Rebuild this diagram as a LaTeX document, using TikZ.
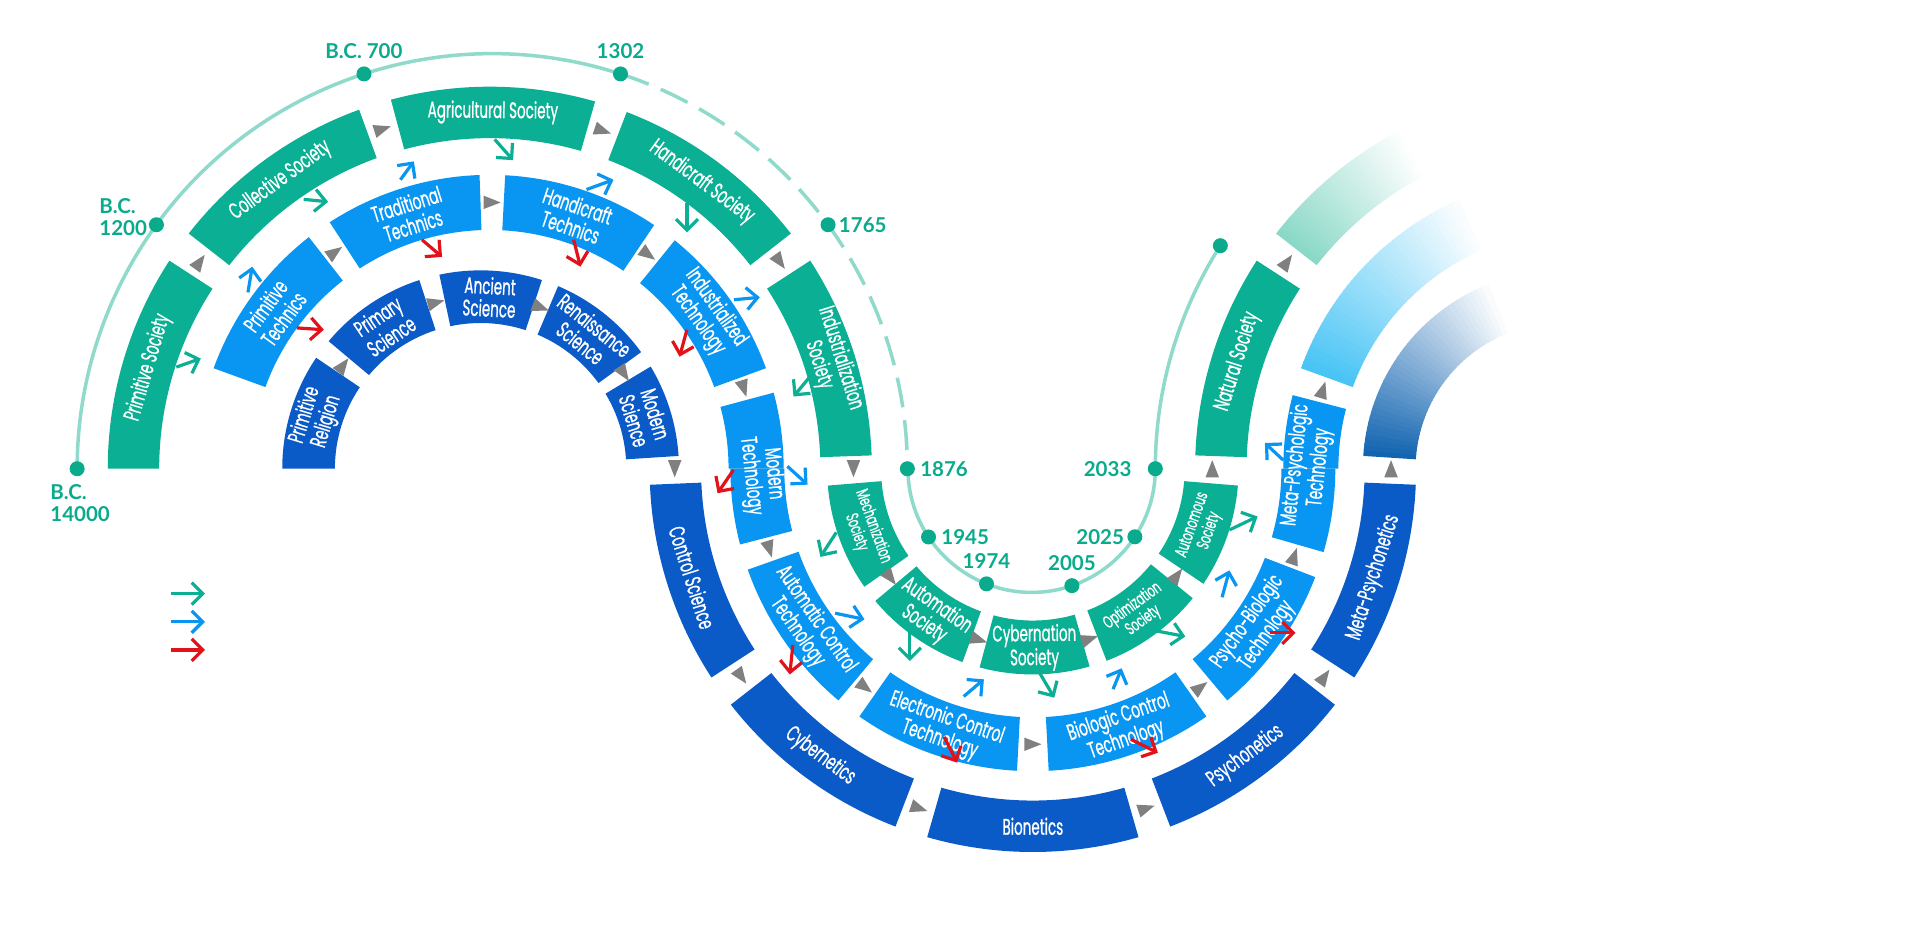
\documentclass[tikz,border=0pt]{standalone}
\usepackage{fontspec}
\usepackage{tikz}
\usetikzlibrary{arrows.meta, positioning}
\newfontfamily\segfont[FakeStretch=0.6, FakeBold=0.8]{Poppins}
\newfontfamily\yearfont{Lato}
\definecolor{societyteal}{HTML}{0AAF94}
\definecolor{techblue}{HTML}{0896F2}
\definecolor{sciblue}{HTML}{0A5AC8}
\definecolor{flowgray}{HTML}{808080}
\definecolor{linkred}{HTML}{E3121A}
\definecolor{timeline}{HTML}{8FDACB}
\definecolor{yeargreen}{HTML}{0AAA8C}
\definecolor{fadeteal}{HTML}{8AD8C7}
\definecolor{fadesky}{HTML}{48C4F5}
\definecolor{fadenavy}{HTML}{1264B0}

% ring piece: centre x, inner r, outer r, from angle, to angle, colour
\newcommand{\segfill}[6]{%
  \fill[#6, shift={(#1,389)}] (#4:#3) arc[start angle=#4, end angle=#5, radius=#3]
    -- (#5:#2) arc[start angle=#5, end angle=#4, radius=#2] -- cycle;}
% ring piece with its label
\newcommand{\seg}[9]{%
  \segfill{#2}{#3}{#4}{#5}{#6}{#7}
  \pgfmathsetmacro\midang{(#5+#6)/2}
  \pgfmathsetmacro\midrad{(#3+#4)/2}
  \node[segtext, #8] (#1) at ([shift={(#2,389)}]\midang:\midrad) {#9};}
% gray flow mark in a gap (tip 7 = counter-clockwise, -7 = clockwise)
\newcommand{\flowtri}[4]{%
  \fill[flowgray, shift={(#1,389)}, rotate=#3] (#2,#4) -- ({#2-5.5},{-(#4)}) -- ({#2+5.5},{-(#4)}) -- cycle;}
% fading ring piece
\newcommand{\fadeseg}[6]{%
  \foreach \k in {0,...,39}{%
    \pgfmathsetmacro\fa{#4+(#5-#4)*\k/40}
    \pgfmathsetmacro\fb{#4+(#5-#4)*(\k+1.3)/40}
    \pgfmathsetmacro\fs{100*(1-\k/40)}
    \segfill{#1}{#2}{#3}{\fa}{\fb}{#6!\fs!white}}}

\begin{document}
\begin{tikzpicture}[x=1.2245pt, y=1.2245pt,
  segtext/.style={text=white, font=\segfont\fontsize{22.5}{22.5}\selectfont, align=center, inner sep=0pt},
  tight/.style={font=\segfont\fontsize{17.5}{18}\selectfont},
  onarc/.style={rotate=\midang-90},
  underarc/.style={rotate=\midang+90},
  year/.style={text=yeargreen, font=\yearfont\bfseries\fontsize{20.5}{22}\selectfont, inner sep=0pt},
  tdot/.style={circle, fill=yeargreen, minimum size=15pt, inner sep=0pt},
  tline/.style={draw=timeline, line width=3.5pt},
  link/.style={line width=3.2pt, -{Straight Barb[length=11pt, width=22pt]}}
]
\fill[white] (0,0) rectangle (1568,771.8);

% science ring
\seg{primrel}{392.5}{119}{162}{180}{146}{sciblue}{onarc}{Primitive\\Religion}
\seg{primsci}{392.5}{119}{162}{140}{108}{sciblue}{onarc}{Primary\\Science}
\seg{ancsci}{392.5}{119}{162}{102}{72}{sciblue}{onarc}{Ancient\\Science}
\seg{rensci}{392.5}{119}{162}{67}{36}{sciblue}{onarc}{Renaissance\\Science}
\seg{modsci}{392.5}{119}{162}{31}{3.7}{sciblue}{onarc}{Modern\\Science}
\seg{ctlsci}{843.5}{271}{313}{182.4}{213}{sciblue}{underarc}{Control Science}
\seg{cybern}{843.5}{271}{313}{218}{249}{sciblue}{underarc}{Cybernetics}
\seg{bionet}{843.5}{271}{313}{254}{286}{sciblue}{underarc}{Bionetics}
\seg{psynet}{843.5}{271}{313}{291}{322}{sciblue}{underarc}{Psychonetics}
\seg{metanet}{843.5}{271}{313}{327}{357.6}{sciblue}{underarc}{Meta-Psychonetics}
\fadeseg{1275}{119}{162}{176.3}{112}{fadenavy}

% technology ring
\seg{primtech}{400}{195}{240}{160}{128}{techblue}{onarc}{Primitive\\Technics}
\seg{tradtech}{400}{195}{240}{123}{92}{techblue}{onarc}{Traditional\\Technics}
\seg{handtech}{400}{195}{240}{87}{56}{techblue}{onarc}{Handicraft\\Technics}
\seg{indtech}{400}{195}{240}{51}{20}{techblue}{onarc}{Industrialized\\Technology}
\segfill{400}{195}{240}{15}{0}{techblue}
\segfill{843.5}{203}{247}{180}{194.5}{techblue}
\node[segtext, rotate=-84] (modtech) at (622,384) {Modern\\Technology};
\seg{autotech}{843.5}{203}{247}{199.5}{230}{techblue}{underarc}{Automatic Control\\Technology}
\seg{electech}{843.5}{203}{247}{235}{267}{techblue}{underarc}{Electronic Control\\Technology}
\seg{biotech}{843.5}{203}{247}{273}{305}{techblue}{underarc}{Biologic Control\\Technology}
\seg{psytech}{843.5}{203}{247}{310}{339}{techblue}{underarc}{Psycho-Biologic\\Technology}
\segfill{843.5}{203}{247}{344}{360}{techblue}
\segfill{1288}{195}{240}{180}{165.5}{techblue}
\node[segtext, rotate=84] (metatech) at (1068,391) {Meta-Psychologic\\Technology};
\fadeseg{1288}{195}{240}{160}{114}{fadesky}

% society ring
\seg{primsoc}{400}{270}{312}{180}{147}{societyteal}{onarc}{Primitive Society}
\seg{collsoc}{400}{270}{312}{142}{110}{societyteal}{onarc}{Collective Society}
\seg{agrisoc}{400}{270}{312}{105}{74}{societyteal}{onarc}{Agricultural Society}
\seg{handsoc}{400}{270}{312}{69}{38}{societyteal}{onarc}{Handicraft Society}
\seg{indsoc}{400}{270}{312}{33}{2}{societyteal}{onarc}{Industrialization\\Society}
\seg{mechsoc}{843.5}{124}{168}{184.7}{215}{societyteal}{underarc,tight}{Mechanization\\Society}
\seg{autosoc}{843.5}{124}{168}{220}{250}{societyteal}{underarc}{Automation\\Society}
\seg{cybsoc}{843.5}{124}{168}{255}{286}{societyteal}{underarc}{Cybernation\\Society}
\seg{optsoc}{843.5}{124}{168}{291}{321}{societyteal}{underarc,tight}{Optimization\\Society}
\seg{autnsoc}{843.5}{124}{168}{326}{355.3}{societyteal}{underarc,tight}{Autonomous\\Society}
\seg{natsoc}{1288}{270}{312}{178}{147}{societyteal}{onarc}{Natural Society}
\fadeseg{1288}{270}{312}{142}{118}{fadeteal}

% flow marks
\foreach \a in {144.5,107.5,71.5,35.5} \flowtri{400}{291}{\a}{-7};
\foreach \a in {125.5,89.5,53.5,17.5} \flowtri{400}{217.5}{\a}{-7};
\foreach \a in {143,105,69.5,33.5} \flowtri{392.5}{140.5}{\a}{-7};
\foreach \a in {180,217.5,252.5,288.5,323.5,360} \flowtri{843.5}{146.5}{\a}{7};
\foreach \a in {197,232.5,270,307.5,341.5} \flowtri{843.5}{225}{\a}{7};
\foreach \a in {180,215.5,251.5,288.5,324.5,360} \flowtri{843.5}{292.5}{\a}{7};
\flowtri{1288}{291}{144.5}{-7}
\flowtri{1288}{217.5}{162.75}{-7}

% links between the rings
\foreach \xa/\ya/\xb/\yb in {144/472/164/479, 248/609/268/607, 404/658/419/641,
    561/606/561/582, 663/466/648/448, 683/337/670/317, 743/258/743/232,
    848/224/861/202, 942/257/968/252, 1004/339/1027/350}
  \draw[link, draw=societyteal] (\xa,\ya) -- (\xb,\yb);
\foreach \xa/\ya/\xb/\yb in {202.5/533/206/554, 327/625/338/640, 479/617/501/625,
    599.5/527/620.5/529, 643/391/659.5/376, 682/271/706/266, 787/203/803.5/217,
    909/209/916/226, 998/284/1004/306, 1048/396/1033/410}
  \draw[link, draw=techblue] (\xa,\ya) -- (\xb,\yb);
\foreach \xa/\ya/\xb/\yb in {242.5/504/264.5/502.5, 344.6/576/361/562, 468.5/576/474/554,
    561/502.5/555/480.5, 599/388/586/369, 647.5/245/645/221, 771/170/781.6/149,
    923.6/168/945.6/157, 1037/255/1058/255}
  \draw[link, draw=linkred] (\xa,\ya) -- (\xb,\yb);

% legend
\draw[link, draw=societyteal] (139.6,287) -- (167.4,287);
\draw[link, draw=techblue] (139.6,264) -- (167.4,264);
\draw[link, draw=linkred] (139.6,241) -- (167.4,241);

% time line
\draw[tline] ([shift={(402,389)}]180:339) arc[start angle=180, end angle=72, radius=339];
\draw[tline, dash pattern=on 30pt off 13pt] ([shift={(402,389)}]72:339) arc[start angle=72, end angle=0, radius=339];
\draw[tline] ([shift={(842.5,389)}]180:101) arc[start angle=180, end angle=360, radius=101];
\draw[tline] ([shift={(1282.5,389)}]180:339) arc[start angle=180, end angle=147.5, radius=339];

\node[tdot] (bc14000) at ([shift={(402,389)}]180:339) {};
\node[tdot] (bc1200) at ([shift={(402,389)}]144:339) {};
\node[tdot] (bc700) at ([shift={(402,389)}]108:339) {};
\node[tdot] (y1302) at ([shift={(402,389)}]72:339) {};
\node[tdot] (y1765) at ([shift={(402,389)}]36:339) {};
\node[tdot] (y1876) at ([shift={(402,389)}]0:339) {};
\node[tdot] (y1945) at ([shift={(842.5,389)}]213.5:101) {};
\node[tdot] (y1974) at ([shift={(842.5,389)}]248.6:101) {};
\node[tdot] (y2005) at ([shift={(842.5,389)}]289:101) {};
\node[tdot] (y2025) at ([shift={(842.5,389)}]326.6:101) {};
\node[tdot] (y2033) at ([shift={(842.5,389)}]360:101) {};
\node[tdot] (futuredot) at ([shift={(1282.5,389)}]147.5:339) {};

\node[year, align=left, anchor=north west] (lbc14000) at (41,376) {B.C.\\14000};
\node[year, align=left, anchor=north west] (lbc1200) at (81,610) {B.C.\\1200};
\node[year, above=7pt of bc700] (lbc700) {B.C. 700};
\node[year, above=7pt of y1302] (l1302) {1302};
\node[year, right=3pt of y1765] (l1765) {1765};
\node[year, right=5pt of y1876] (l1876) {1876};
\node[year, right=5pt of y1945] (l1945) {1945};
\node[year, above=7pt of y1974] (l1974) {1974};
\node[year, above=7pt of y2005] (l2005) {2005};
\node[year, left=3pt of y2025] (l2025) {2025};
\node[year, left=16pt of y2033] (l2033) {2033};
\end{tikzpicture}
\end{document}
